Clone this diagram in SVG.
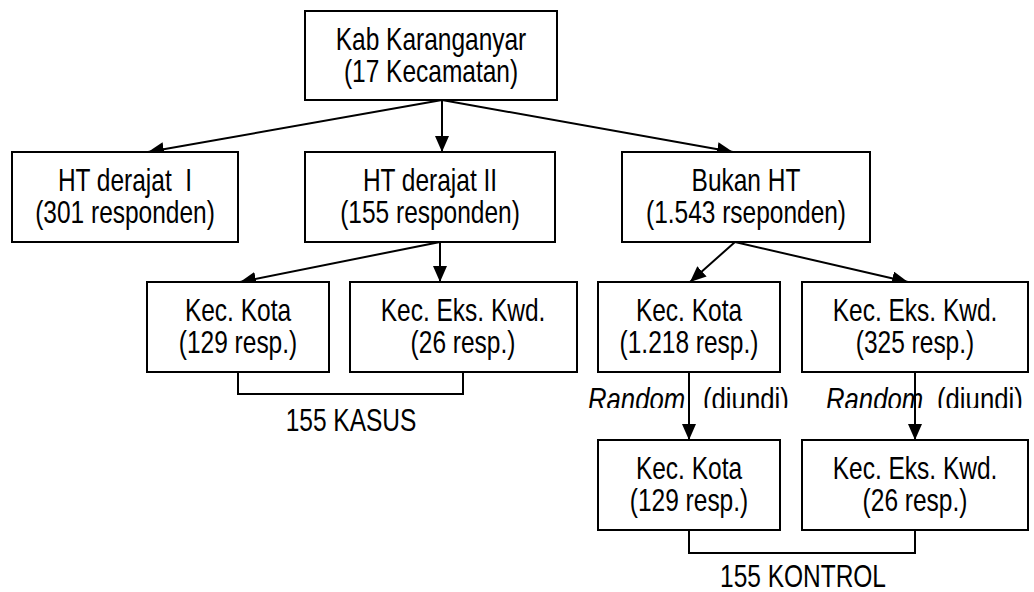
<svg xmlns="http://www.w3.org/2000/svg" width="1034" height="592" viewBox="0 0 1034 592">
  <style>
    .box { fill: #ffffff; stroke: #000000; stroke-width: 2; }
    .lbl { font-family: "Liberation Sans", Arial, sans-serif; font-size: 31px; fill: #000000; text-anchor: middle; }
    .free { font-family: "Liberation Sans", Arial, sans-serif; font-size: 31px; fill: #000000; }
    .conn { fill: none; stroke: #000000; stroke-width: 2; }
  </style>
  <defs>
    <marker id="arrow" viewBox="0 0 16 14" refX="16" refY="7" markerWidth="16" markerHeight="14" markerUnits="userSpaceOnUse" orient="auto">
      <path d="M0,0 L16,7 L0,14 Z" fill="#000000"/>
    </marker>
    <clipPath id="labelClip">
      <rect x="0" y="370" width="1034" height="38"/>
    </clipPath>
  </defs>

  <!-- Connectors -->
  <g id="connectors">
    <line class="conn" x1="442" y1="100" x2="148" y2="152" marker-end="url(#arrow)"/>
    <line class="conn" x1="442" y1="100" x2="442" y2="152" marker-end="url(#arrow)"/>
    <line class="conn" x1="442" y1="100" x2="733" y2="152" marker-end="url(#arrow)"/>
    <line class="conn" x1="440" y1="242" x2="240" y2="282" marker-end="url(#arrow)"/>
    <line class="conn" x1="440" y1="242" x2="440" y2="282" marker-end="url(#arrow)"/>
    <line class="conn" x1="735" y1="242" x2="690" y2="282" marker-end="url(#arrow)"/>
    <line class="conn" x1="735" y1="242" x2="908" y2="282" marker-end="url(#arrow)"/>
    <line class="conn" x1="689" y1="372" x2="689" y2="440" marker-end="url(#arrow)"/>
    <line class="conn" x1="915" y1="372" x2="915" y2="440" marker-end="url(#arrow)"/>
    <path class="conn" d="M238,372 V394 H463 V372"/>
    <path class="conn" d="M689,530 V553 H915 V530"/>
  </g>

  <!-- Labels use a horizontally condensed sans (scale 0.79) -->
  <g id="kab">
    <rect class="box" x="305" y="11" width="252" height="89"/>
    <text class="lbl" transform="translate(431,50) scale(0.79,1)">Kab Karanganyar</text>
    <text class="lbl" transform="translate(431,82) scale(0.79,1)">(17 Kecamatan)</text>
  </g>

  <g id="ht1">
    <rect class="box" x="12" y="152" width="226" height="90"/>
    <text class="lbl" transform="translate(125,191) scale(0.79,1)" xml:space="preserve">HT derajat  I</text>
    <text class="lbl" transform="translate(125,223) scale(0.79,1)">(301 responden)</text>
  </g>

  <g id="ht2">
    <rect class="box" x="305" y="152" width="250" height="90"/>
    <text class="lbl" transform="translate(430,191) scale(0.79,1)">HT derajat II</text>
    <text class="lbl" transform="translate(430,223) scale(0.79,1)">(155 responden)</text>
  </g>

  <g id="bukan">
    <rect class="box" x="622" y="152" width="248" height="90"/>
    <text class="lbl" transform="translate(746,191) scale(0.79,1)">Bukan HT</text>
    <text class="lbl" transform="translate(746,223) scale(0.79,1)">(1.543 rseponden)</text>
  </g>

  <g id="kasus-kota">
    <rect class="box" x="147" y="282" width="182" height="90"/>
    <text class="lbl" transform="translate(238,321) scale(0.79,1)">Kec. Kota</text>
    <text class="lbl" transform="translate(238,353) scale(0.79,1)">(129 resp.)</text>
  </g>

  <g id="kasus-eks">
    <rect class="box" x="350" y="282" width="227" height="90"/>
    <text class="lbl" transform="translate(463,321) scale(0.79,1)">Kec. Eks. Kwd.</text>
    <text class="lbl" transform="translate(463,353) scale(0.79,1)">(26 resp.)</text>
  </g>

  <g id="bukan-kota">
    <rect class="box" x="598" y="282" width="182" height="90"/>
    <text class="lbl" transform="translate(689,321) scale(0.79,1)">Kec. Kota</text>
    <text class="lbl" transform="translate(689,353) scale(0.79,1)">(1.218 resp.)</text>
  </g>

  <g id="bukan-eks">
    <rect class="box" x="802" y="282" width="226" height="90"/>
    <text class="lbl" transform="translate(915,321) scale(0.79,1)">Kec. Eks. Kwd.</text>
    <text class="lbl" transform="translate(915,353) scale(0.79,1)">(325 resp.)</text>
  </g>

  <g id="kontrol-kota">
    <rect class="box" x="598" y="440" width="182" height="90"/>
    <text class="lbl" transform="translate(689,479) scale(0.79,1)">Kec. Kota</text>
    <text class="lbl" transform="translate(689,511) scale(0.79,1)">(129 resp.)</text>
  </g>

  <g id="kontrol-eks">
    <rect class="box" x="802" y="440" width="226" height="90"/>
    <text class="lbl" transform="translate(915,479) scale(0.79,1)">Kec. Eks. Kwd.</text>
    <text class="lbl" transform="translate(915,511) scale(0.79,1)">(26 resp.)</text>
  </g>

  <!-- Sampling labels on the draw-lots arrows, cut off at the bottom -->
  <g id="random-labels" clip-path="url(#labelClip)">
    <text class="free" font-style="italic" transform="translate(588,410) scale(0.83,1)">Random</text>
    <text class="free" transform="translate(703,410) scale(0.83,1)">(diundi)</text>
    <text class="free" font-style="italic" transform="translate(826,410) scale(0.83,1)">Random</text>
    <text class="free" transform="translate(937,410) scale(0.83,1)">(diundi)</text>
  </g>

  <g id="totals">
    <text class="lbl" transform="translate(351,431) scale(0.79,1)">155 KASUS</text>
    <text class="lbl" transform="translate(803,587) scale(0.79,1)">155 KONTROL</text>
  </g>
</svg>
